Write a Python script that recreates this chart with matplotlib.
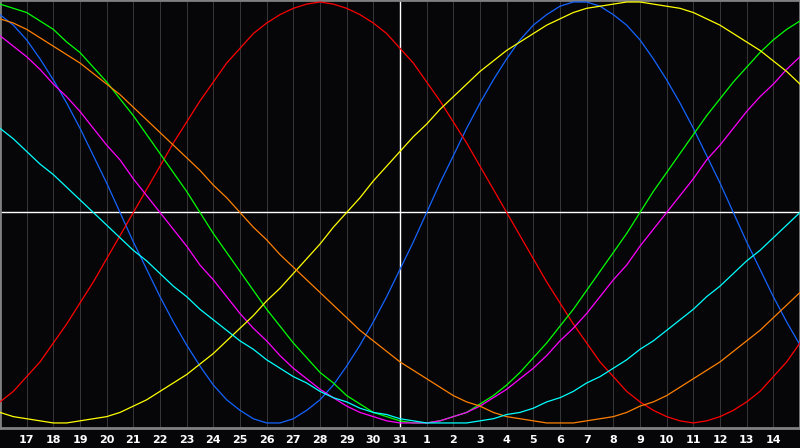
import matplotlib
matplotlib.use("Agg")
import matplotlib.pyplot as plt

# day of month for each day shown (first and last are off the labelled range)
day_nums = [16, 17, 18, 19, 20, 21, 22, 23, 24, 25, 26, 27, 28, 29, 30, 31,
            1, 2, 3, 4, 5, 6, 7, 8, 9, 10, 11, 12, 13, 14, 15]
today_idx = 15  # the 31st

# cycle values in percent: at each day, and at each midday
physical_day = [94, 82, 63, 40, 14, -14, -40, -63, -82, -94, -100, -98, -89, -73, -52, -27,
                0, 27, 52, 73, 89, 98, 100, 94, 82, 63, 40, 14, -14, -40, -63]
physical_mid = [89, 73, 52, 27, 0, -27, -52, -73, -89, -98, -100, -94, -82, -63, -40, -14,
                14, 40, 63, 82, 94, 100, 98, 89, 73, 52, 27, 0, -27, -52]
emotional_day = [-90, -78, -62, -43, -22, 0, 22, 43, 62, 78, 90, 97, 100, 97, 90, 78,
                 62, 43, 22, 0, -22, -43, -62, -78, -90, -97, -100, -97, -90, -78, -62]
emotional_mid = [-85, -71, -53, -33, -11, 11, 33, 53, 71, 85, 94, 99, 99, 94, 85, 71,
                 53, 33, 11, -11, -33, -53, -71, -85, -94, -99, -99, -94, -85, -71]
intellectual_day = [99, 95, 87, 76, 62, 46, 28, 10, -10, -28, -46, -62, -76, -87, -95, -99,
                    -100, -97, -91, -82, -69, -54, -37, -19, 0, 19, 37, 54, 69, 82, 91]
intellectual_mid = [97, 91, 81, 69, 54, 37, 19, 0, -19, -37, -54, -69, -81, -91, -97, -100,
                    -99, -95, -87, -76, -62, -46, -28, -10, 10, 28, 46, 62, 76, 87]
intuitive_day = [84, 74, 61, 48, 32, 16, 0, -16, -32, -48, -61, -74, -84, -92, -97, -100,
                 -100, -97, -92, -84, -74, -61, -48, -32, -16, 0, 16, 32, 48, 61, 74]
intuitive_mid = [79, 68, 55, 40, 25, 8, -8, -25, -40, -55, -68, -79, -88, -95, -99, -100,
                 -99, -95, -88, -79, -68, -55, -40, -25, -8, 8, 25, 40, 55, 68]
aesthetic_day = [-95, -98, -100, -99, -97, -92, -85, -77, -67, -55, -42, -29, -15, 0, 15, 29,
                 42, 55, 67, 77, 85, 92, 97, 99, 100, 98, 95, 89, 81, 72, 61]
aesthetic_mid = [-97, -99, -100, -98, -95, -89, -81, -72, -61, -49, -36, -22, -7, 7, 22, 36,
                 49, 61, 72, 81, 89, 95, 98, 100, 99, 97, 92, 85, 77, 67]
awareness_day = [92, 87, 79, 71, 61, 50, 38, 26, 13, 0, -13, -26, -38, -50, -61, -71,
                 -79, -87, -92, -97, -99, -100, -99, -97, -92, -87, -79, -71, -61, -50, -38]
awareness_mid = [90, 83, 75, 66, 56, 44, 32, 20, 7, -7, -20, -32, -44, -56, -66, -75,
                 -83, -90, -95, -98, -100, -100, -98, -95, -90, -83, -75, -66, -56, -44]
spiritual_day = [40, 29, 18, 6, -6, -18, -29, -40, -51, -61, -70, -78, -85, -90, -95, -98,
                 -100, -100, -99, -96, -93, -88, -81, -74, -65, -56, -46, -35, -23, -12, 0]
spiritual_mid = [35, 23, 12, 0, -12, -23, -35, -46, -56, -65, -74, -81, -88, -93, -96, -99,
                 -100, -100, -98, -95, -90, -85, -78, -70, -61, -51, -40, -29, -18, -6]

series = [(physical_day, physical_mid, "#1464ff"),
          (emotional_day, emotional_mid, "#ff0000"),
          (intellectual_day, intellectual_mid, "#00ff00"),
          (intuitive_day, intuitive_mid, "#ff00ff"),
          (aesthetic_day, aesthetic_mid, "#ffff00"),
          (awareness_day, awareness_mid, "#ff8000"),
          (spiritual_day, spiritual_mid, "#00ffff")]

bg = "#060609"
fig = plt.figure(figsize=(8, 4.48), dpi=100, facecolor=bg)
ax = fig.add_axes([0, 20 / 448, 1, 428 / 448], facecolor=bg)

days = list(range(len(day_nums)))
xs = [d / 2 for d in range(2 * len(day_nums) - 1)]

# day grid, zero line and today line
for d in days[1:-1]:
    ax.axvline(d, color="#353535", lw=0.75, zorder=1)
ax.axhline(0, color="white", lw=1.0, zorder=2)
ax.axvline(today_idx, color="white", lw=1.0, zorder=2)

for day_vals, mid_vals, c in series:
    ys = []
    for a, b in zip(day_vals, mid_vals):
        ys += [a / 100, b / 100]
    ys.append(day_vals[-1] / 100)
    ax.plot(xs, ys, color=c, lw=0.9, zorder=3)

ax.set_xlim(0, 30)
ax.set_ylim(-1.024, 1.0095)

ax.set_xticks(days[1:-1])
ax.set_xticklabels([str(d) for d in day_nums[1:-1]], color="white",
                   fontsize=8, fontweight="bold")
ax.tick_params(axis="x", length=0, pad=5)
ax.set_yticks([])

for s in ["left", "top", "bottom", "right"]:
    ax.spines[s].set_color("#808080")
    ax.spines[s].set_linewidth(2)

fig.savefig("out.png", dpi=100, facecolor=bg)
